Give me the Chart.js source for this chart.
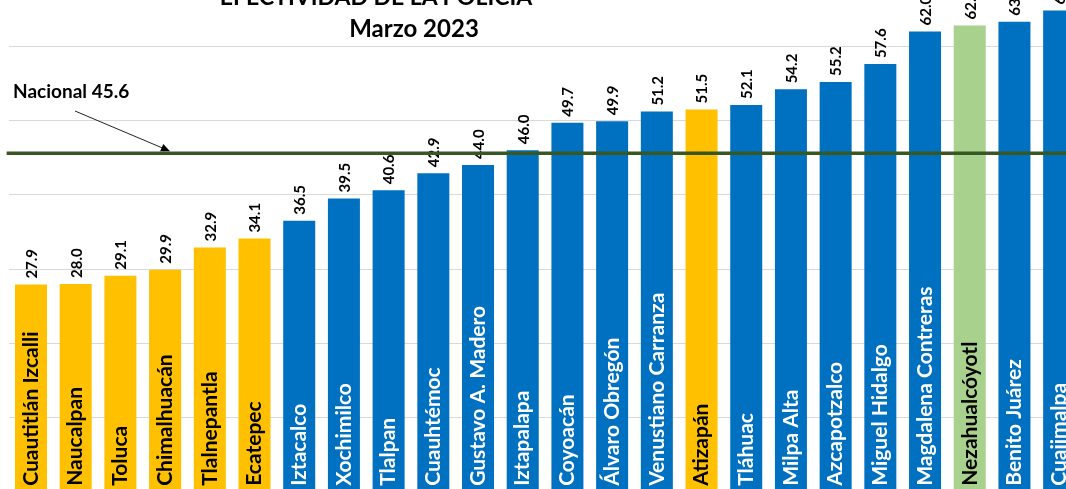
<!DOCTYPE html>
<html>
<head>
<meta charset="utf-8">
<script src="https://cdn.jsdelivr.net/npm/chart.js"></script>
<style>
body { margin: 0; background: #fff; }
#wrap { position: relative; width: 1066px; height: 489px; overflow: hidden; font-family: Lato, sans-serif; }
#box { position: absolute; left: 0; top: -40px; width: 1090px; height: 560px; }
.t { position: absolute; font-weight: bold; color: #000; white-space: nowrap; line-height: 1; }
.c { transform: translateX(-50%); }
</style>
</head>
<body>
<div id="wrap">
	<div id="box"><canvas id="mycanvas" width="1090" height="560"></canvas></div>
	<div class="t c" style="left:376px; top:-15px; font-size:23px;">EFECTIVIDAD DE LA POLICÍA</div>
	<div class="t c" style="left:414px; top:16px; font-size:24px;">Marzo 2023</div>
	<div class="t" id="nac" style="left:13px; top:81px; font-size:19px;"></div>
</div>
<script>
var municipios = ['Cuautitlán Izcalli', 'Naucalpan', 'Toluca', 'Chimalhuacán', 'Tlalnepantla', 'Ecatepec',
	'Iztacalco', 'Xochimilco', 'Tlalpan', 'Cuauhtémoc', 'Gustavo A. Madero', 'Iztapalapa', 'Coyoacán',
	'Álvaro Obregón', 'Venustiano Carranza', 'Atizapán', 'Tláhuac', 'Milpa Alta', 'Azcapotzalco',
	'Miguel Hidalgo', 'Magdalena Contreras', 'Nezahualcóyotl', 'Benito Juárez', 'Cuajimalpa'];
var efectividad = [27.9, 28.0, 29.1, 29.9, 32.9, 34.1, 36.5, 39.5, 40.6, 42.9, 44.0, 46.0, 49.7,
	49.9, 51.2, 51.5, 52.1, 54.2, 55.2, 57.6, 62.0, 62.8, 63.3, 64.8];
var entidad = ['MEX', 'MEX', 'MEX', 'MEX', 'MEX', 'MEX', 'CDMX', 'CDMX', 'CDMX', 'CDMX', 'CDMX', 'CDMX', 'CDMX',
	'CDMX', 'CDMX', 'MEX', 'CDMX', 'CDMX', 'CDMX', 'CDMX', 'CDMX', 'MEX', 'CDMX', 'CDMX'];
var destacado = 'Nezahualcóyotl';
var nacional = 45.6;

document.getElementById('nac').textContent = 'Nacional ' + nacional.toFixed(1);

var colores = [], textos = [];
for (var i in municipios) {
	if (municipios[i] === destacado) {
		colores.push('#A9D18E'); textos.push('#000');
	} else if (entidad[i] === 'MEX') {
		colores.push('#FFC000'); textos.push('#000');
	} else {
		colores.push('#0070C0'); textos.push('#fff');
	}
}

var etiquetas = {
	id: 'etiquetas',
	afterDatasetsDraw: function(chart) {
		var ctx = chart.ctx;
		var meta = chart.getDatasetMeta(0);
		var y = chart.scales.y;
		var cero = y.getPixelForValue(0);
		ctx.save();
		meta.data.forEach(function(bar, i) {
			// valor encima de la barra
			ctx.save();
			ctx.translate(bar.x + 1, bar.y - 6);
			ctx.rotate(-Math.PI / 2);
			ctx.font = 'bold 15px Lato';
			ctx.fillStyle = '#000';
			ctx.textAlign = 'left';
			ctx.textBaseline = 'middle';
			ctx.fillText(efectividad[i].toFixed(1), 0, 0);
			ctx.restore();
			// nombre dentro de la barra
			ctx.save();
			ctx.translate(bar.x, cero - 6);
			ctx.rotate(-Math.PI / 2);
			ctx.font = 'bold 21px Lato';
			ctx.fillStyle = textos[i];
			ctx.textAlign = 'left';
			ctx.textBaseline = 'middle';
			ctx.fillText(municipios[i], 0, 0);
			ctx.restore();
		});
		// linea nacional
		var yn = y.getPixelForValue(nacional);
		ctx.strokeStyle = '#385723';
		ctx.lineWidth = 3.5;
		ctx.beginPath();
		ctx.moveTo(chart.chartArea.left - 2, yn);
		ctx.lineTo(chart.chartArea.right, yn);
		ctx.stroke();
		// flecha
		var x0 = 75, y0 = 151, x1 = 170, y1 = yn - 2;
		var ang = Math.atan2(y1 - y0, x1 - x0);
		ctx.strokeStyle = '#222';
		ctx.fillStyle = '#000';
		ctx.lineWidth = 1;
		ctx.beginPath();
		ctx.moveTo(x0, y0);
		ctx.lineTo(x1 - 6 * Math.cos(ang), y1 - 6 * Math.sin(ang));
		ctx.stroke();
		ctx.beginPath();
		ctx.moveTo(x1, y1);
		ctx.lineTo(x1 - 9 * Math.cos(ang) + 4 * Math.sin(ang), y1 - 9 * Math.sin(ang) - 4 * Math.cos(ang));
		ctx.lineTo(x1 - 9 * Math.cos(ang) - 4 * Math.sin(ang), y1 - 9 * Math.sin(ang) + 4 * Math.cos(ang));
		ctx.closePath();
		ctx.fill();
		ctx.restore();
	}
};

var chartdata = {
	labels: municipios,
	datasets: [
		{
			label: 'Efectividad',
			data: efectividad,
			backgroundColor: colores,
			borderWidth: 0,
			categoryPercentage: 1,
			barPercentage: 0.716
		}
	]
};

var ctx = document.getElementById('mycanvas');

var barGraph = new Chart(ctx, {
	type: 'bar',
	data: chartdata,
	plugins: [etiquetas],
	options: {
		responsive: false,
		animation: false,
		devicePixelRatio: 1,
		layout: { padding: { left: 8.65, right: 8.5, top: 12, bottom: 28.2 } },
		plugins: { legend: { display: false }, tooltip: { enabled: false }, title: { display: false } },
		scales: {
			x: { display: false },
			y: {
				min: 0,
				max: 70,
				ticks: { display: false, stepSize: 10 },
				border: { display: false },
				grid: { color: '#D9D9D9', lineWidth: 1, drawTicks: false },
				afterFit: function(s) { s.width = 0; }
			}
		}
	}
});
</script>
</body>
</html>
